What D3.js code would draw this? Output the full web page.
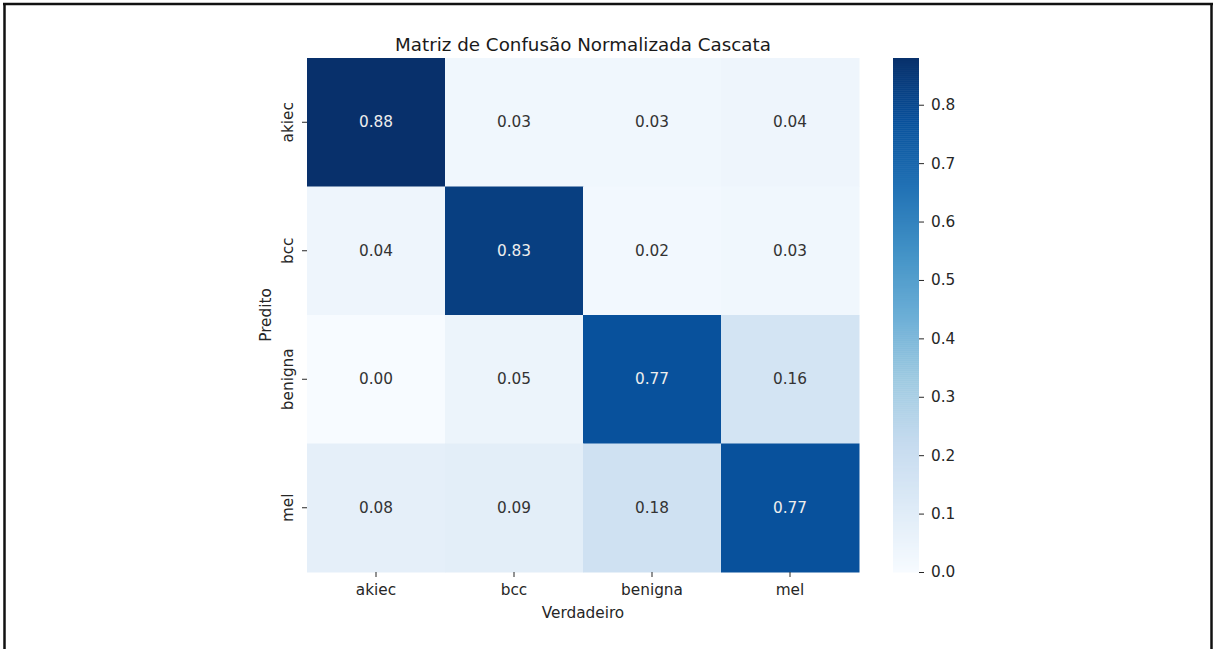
<!DOCTYPE html>
<html>
<head>
<meta charset="utf-8">
<script src="https://cdn.jsdelivr.net/npm/d3@7"></script>
<style>
  body { margin: 0; background: #fff; }
  svg { display: block; font-family: "DejaVu Sans", sans-serif; }
</style>
</head>
<body>
<script>
"use strict";

var classes = ["akiec", "bcc", "benigna", "mel"];
var rowAkiec = [0.88, 0.03, 0.03, 0.04];
var rowBcc = [0.04, 0.83, 0.02, 0.03];
var rowBenigna = [0.00, 0.05, 0.77, 0.16];
var rowMel = [0.08, 0.09, 0.18, 0.77];
var matrix = [rowAkiec, rowBcc, rowBenigna, rowMel];
var cbarTicks = [0.0, 0.1, 0.2, 0.3, 0.4, 0.5, 0.6, 0.7, 0.8];
var blues = ["#f7fbff", "#deebf7", "#c6dbef", "#9ecae1", "#6baed6", "#4292c6", "#2171b5", "#08519c", "#08306b"];

var W = 1213, H = 649;
var plot = { left: 307, top: 58, width: 552, height: 514 };
var cbar = { left: 893, width: 26 };
var fs = "15.3px";

var svg = d3.select("body").append("svg").attr("width", W).attr("height", H);

// frame
svg.append("line").attr("x1", 3).attr("x2", W).attr("y1", 4).attr("y2", 4)
  .attr("stroke", "#111").attr("stroke-width", 2.5);
svg.append("line").attr("x1", 4.5).attr("x2", 4.5).attr("y1", 3).attr("y2", H)
  .attr("stroke", "#111").attr("stroke-width", 2.5);
svg.append("line").attr("x1", 1211.5).attr("x2", 1211.5).attr("y1", 3).attr("y2", H)
  .attr("stroke", "#111").attr("stroke-width", 2.5);

var cells = [];
matrix.forEach(function (row, i) {
  row.forEach(function (v, j) {
    cells.push({ row: classes[i], col: classes[j], value: v });
  });
});

var vmax = d3.max(cells, function (d) { return d.value; });
// matplotlib-style Blues: linear segments between the brewer colours
var color = d3.scaleLinear()
  .domain(blues.map(function (c, i) { return i / (blues.length - 1) * vmax; }))
  .range(blues)
  .interpolate(d3.interpolateRgb)
  .clamp(true);

var x = d3.scaleBand().domain(classes).range([plot.left, plot.left + plot.width]);
var y = d3.scaleBand().domain(classes).range([plot.top, plot.top + plot.height]);

//Cells
svg.append("g").selectAll("rect").data(cells).enter().append("rect")
  .attr("x", function (d) { return x(d.col); })
  .attr("y", function (d) { return y(d.row); })
  .attr("width", x.bandwidth() + 0.5)
  .attr("height", y.bandwidth() + 0.5)
  .attr("fill", function (d) { return color(d.value); });

//Annotations
svg.append("g").selectAll("text").data(cells).enter().append("text")
  .attr("x", function (d) { return x(d.col) + x.bandwidth() / 2; })
  .attr("y", function (d) { return y(d.row) + y.bandwidth() / 2; })
  .attr("text-anchor", "middle")
  .attr("dominant-baseline", "central")
  .style("font-size", fs)
  .attr("fill", function (d) {
    var c = d3.lab(color(d.value));
    return c.l < 55 ? "#eeeeee" : "#333333";
  })
  .text(function (d) { return d.value.toFixed(2); });

//Axes
var xAxis = svg.append("g")
  .attr("transform", "translate(0," + (plot.top + plot.height) + ")")
  .call(d3.axisBottom(x).tickSizeOuter(0).tickSize(5).tickPadding(7));
xAxis.select(".domain").remove();
xAxis.selectAll("text").style("font-size", fs).attr("fill", "#262626").style("font-family", "DejaVu Sans");
xAxis.selectAll("line").attr("stroke", "#262626");

var yAxis = svg.append("g")
  .attr("transform", "translate(" + plot.left + ",0)")
  .call(d3.axisLeft(y).tickSizeOuter(0).tickSize(5).tickPadding(5));
yAxis.select(".domain").remove();
yAxis.selectAll("line").attr("stroke", "#262626");
yAxis.selectAll("text")
  .style("font-size", fs).attr("fill", "#262626").style("font-family", "DejaVu Sans")
  .attr("x", null).attr("dy", null)
  .attr("text-anchor", "middle")
  .attr("transform", "translate(-14,0) rotate(-90)");

//Labels
svg.append("text").attr("x", plot.left + plot.width / 2).attr("y", 618)
  .attr("text-anchor", "middle").style("font-size", fs).attr("fill", "#262626")
  .text("Verdadeiro");
svg.append("text")
  .attr("transform", "translate(271," + (plot.top + plot.height / 2) + ") rotate(-90)")
  .attr("text-anchor", "middle").style("font-size", fs).attr("fill", "#262626")
  .text("Predito");
svg.append("text").attr("x", plot.left + plot.width / 2).attr("y", 51)
  .attr("text-anchor", "middle").style("font-size", "18.3px").attr("fill", "#1a1a1a")
  .text("Matriz de Confusão Normalizada Cascata");

//Colorbar
var cy = d3.scaleLinear().domain([0, vmax]).range([plot.top + plot.height, plot.top]);
var nSteps = 256;
var steps = d3.range(0, nSteps).map(function (i) { return i / nSteps * vmax; });
svg.append("g").selectAll("rect").data(steps).enter().append("rect")
  .attr("x", cbar.left)
  .attr("width", cbar.width)
  .attr("y", function (d) { return cy(d + vmax / nSteps); })
  .attr("height", function (d) { return cy(d) - cy(d + vmax / nSteps) + 0.5; })
  .attr("fill", function (d) { return color(d + vmax / nSteps / 2); });

var cAxis = svg.append("g")
  .attr("transform", "translate(" + (cbar.left + cbar.width) + ",0)")
  .call(d3.axisRight(cy).tickValues(cbarTicks).tickFormat(d3.format(".1f")).tickSize(5).tickPadding(7).tickSizeOuter(0));
cAxis.select(".domain").remove();
cAxis.selectAll("line").attr("stroke", "#262626");
cAxis.selectAll("text").style("font-size", fs).attr("fill", "#262626").style("font-family", "DejaVu Sans");
</script>
</body>
</html>
